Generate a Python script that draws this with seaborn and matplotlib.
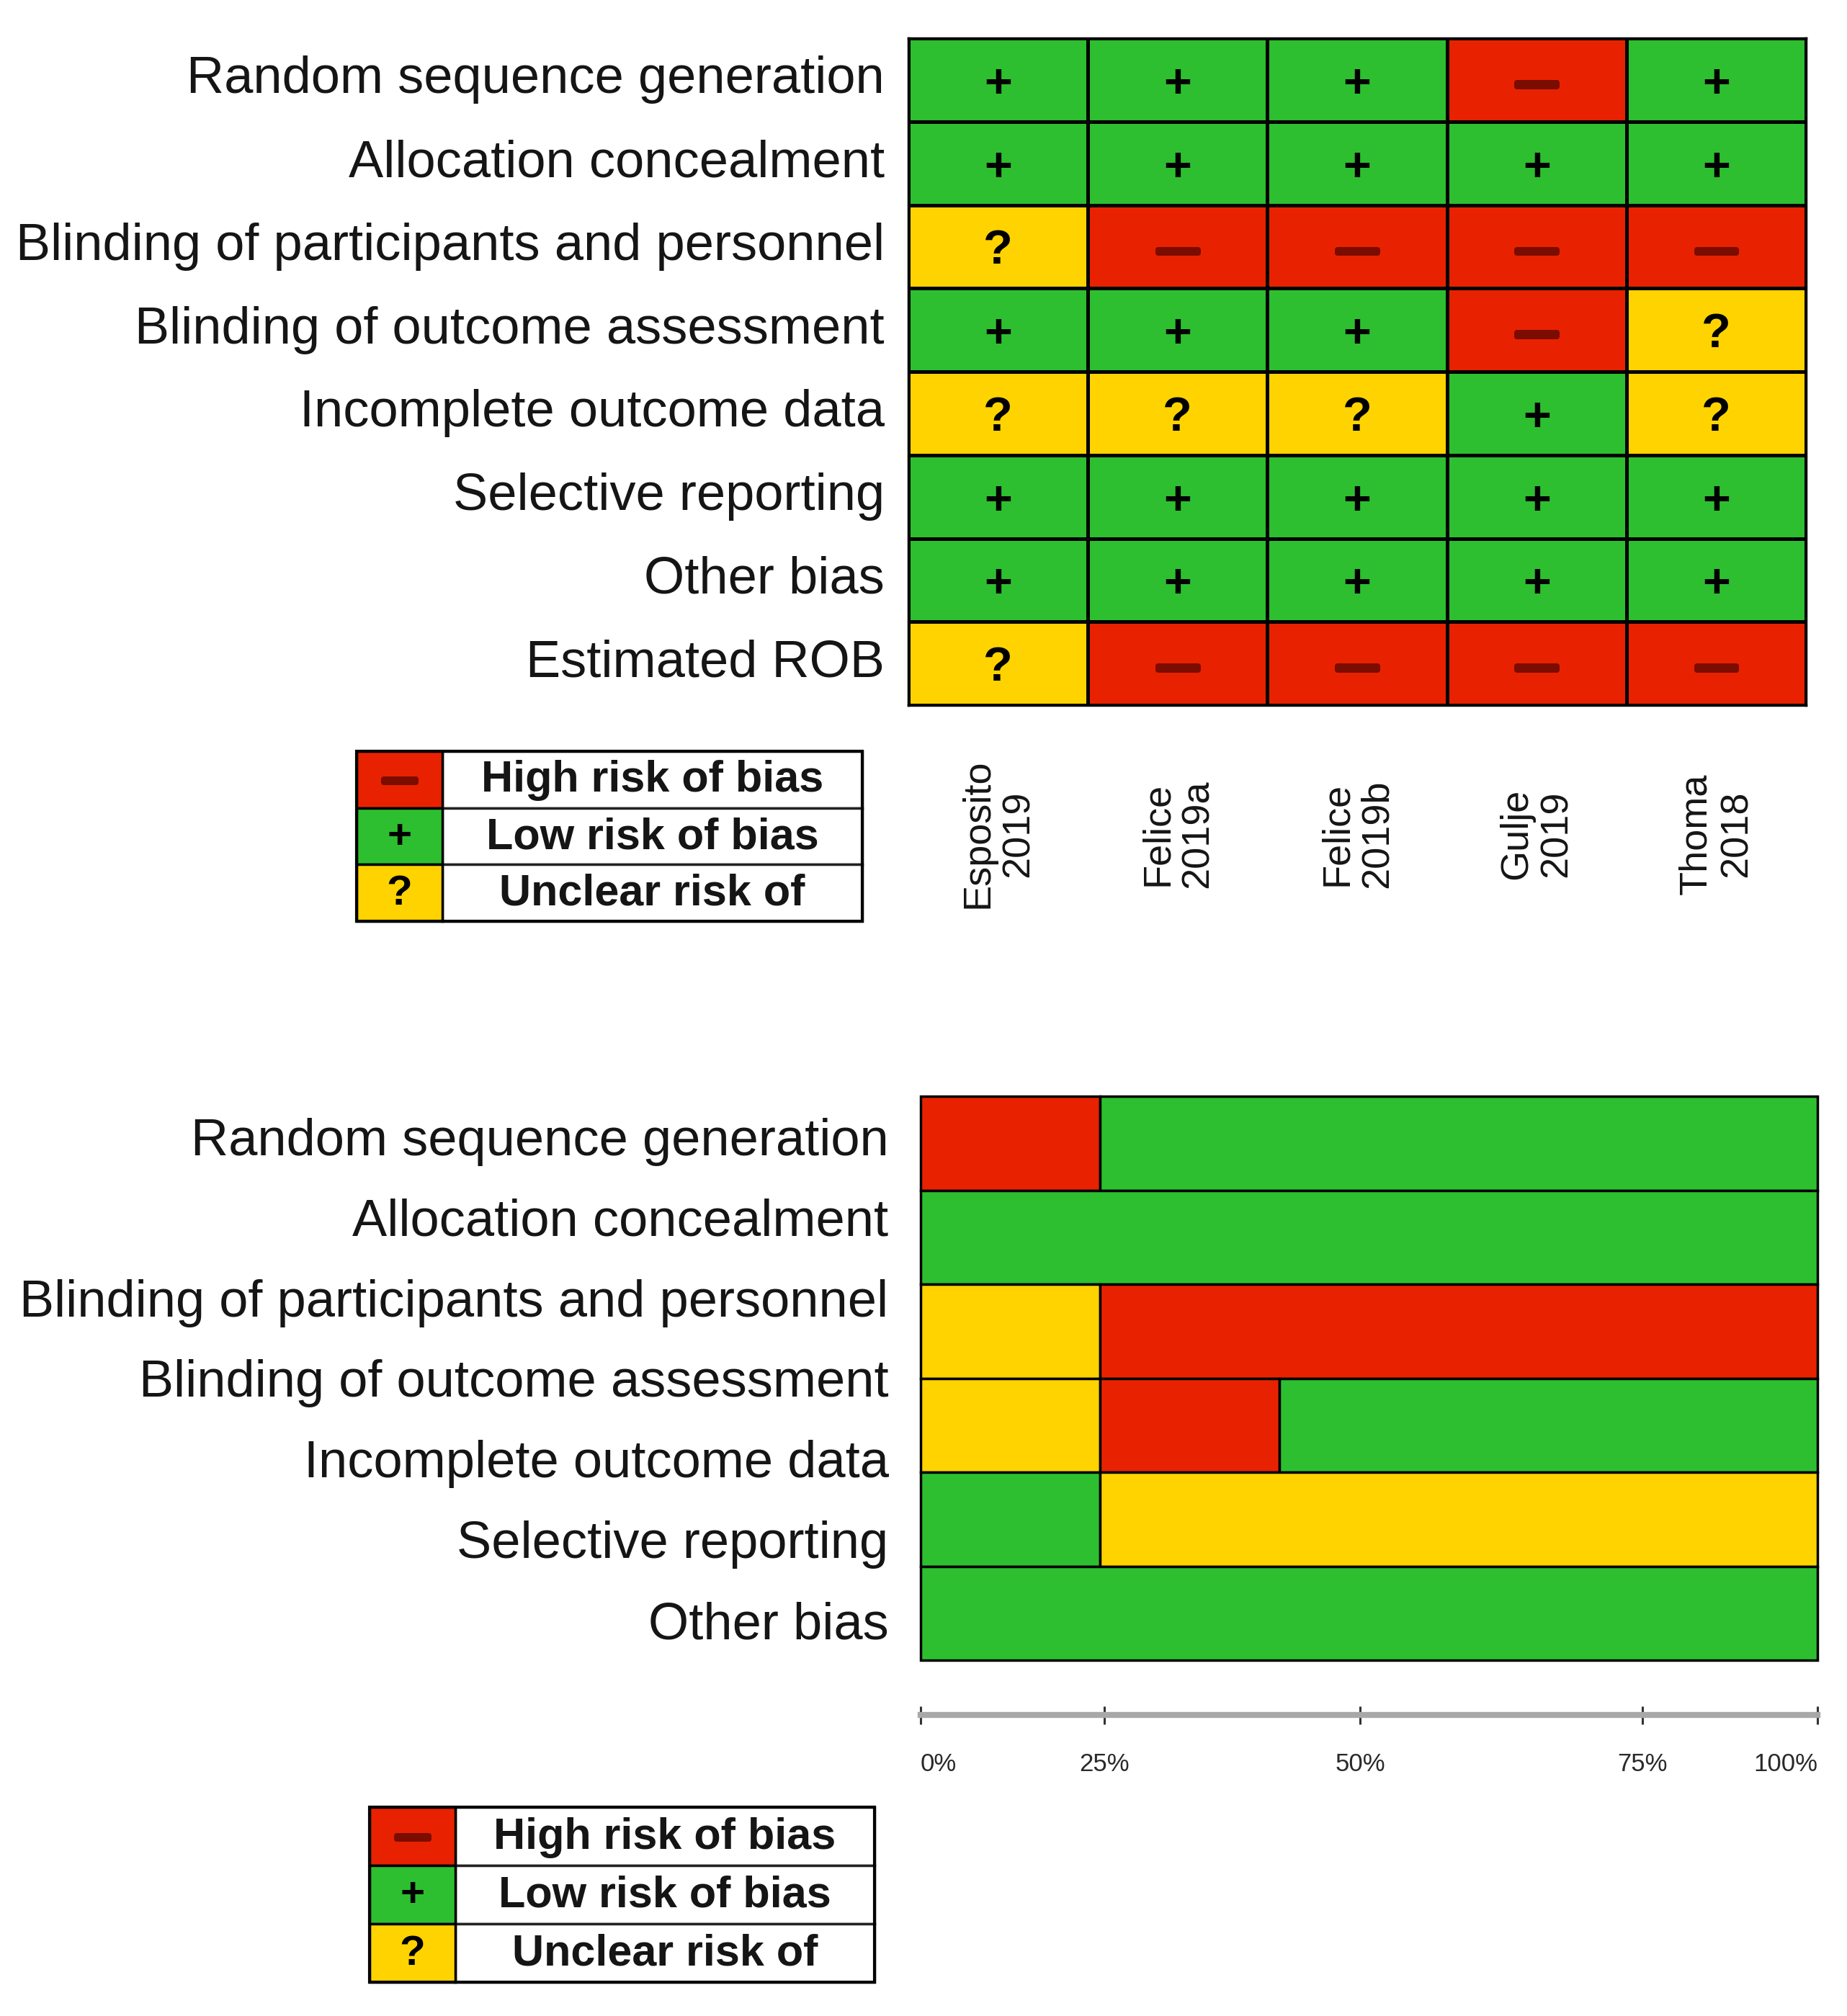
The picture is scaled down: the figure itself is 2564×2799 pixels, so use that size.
import numpy as np
import pandas as pd
import matplotlib
matplotlib.use("Agg")
import matplotlib.pyplot as plt
import matplotlib.patheffects as pe
import seaborn as sns
from matplotlib.colors import ListedColormap
from matplotlib.patches import Rectangle

# ---------------- data ----------------
domains_top = ["Random sequence generation", "Allocation concealment",
               "Blinding of participants and personnel", "Blinding of outcome assessment",
               "Incomplete outcome data", "Selective reporting", "Other bias", "Estimated ROB"]
studies = ["Esposito\n2019", "Felice\n2019a", "Felice\n2019b", "Gulje\n2019", "Thoma\n2018"]
judgements = [
    ["+", "+", "+", "-", "+"],
    ["+", "+", "+", "+", "+"],
    ["?", "-", "-", "-", "-"],
    ["+", "+", "+", "-", "?"],
    ["?", "?", "?", "+", "?"],
    ["+", "+", "+", "+", "+"],
    ["+", "+", "+", "+", "+"],
    ["?", "-", "-", "-", "-"],
]
domains_bottom = ["Random sequence generation", "Allocation concealment",
                  "Blinding of participants and personnel", "Blinding of outcome assessment",
                  "Incomplete outcome data", "Selective reporting", "Other bias"]
seg_judgement = [["-", "+"], ["+"], ["?", "-"], ["?", "-", "+"], ["+", "?"], ["+"]]
seg_percent = [[20, 80], [100], [20, 80], [20, 20, 60], [20, 80], [100]]
axis_tick_pos = [0, 20.5, 49, 80.5, 100]
axis_tick_labels = ["0%", "25%", "50%", "75%", "100%"]
legend_labels = ["High risk of bias", "Low risk of bias", "Unclear risk of"]
legend_symbols = ["-", "+", "?"]

# ---------------- style ----------------
RED = "#E82200"
GREEN = "#2DBF2F"
YELLOW = "#FFD300"
DARKRED = "#7A0C00"
COL = {"-": RED, "+": GREEN, "?": YELLOW}
CODE = {"-": 0, "+": 1, "?": 2}
DISP = {"-": "\u2014", "+": "+", "?": "?"}
TXT = "#151515"
MINUS_FX = [pe.withStroke(linewidth=5, foreground=DARKRED)]

sns.set_style("white")
plt.rcParams["font.family"] = ["Liberation Sans", "DejaVu Sans"]

W, H = 2564, 2799
fig = plt.figure(figsize=(W / 100, H / 100), dpi=100)


def fr(x0, y0, x1, y1):
    return [x0 / W, 1 - y1 / H, (x1 - x0) / W, (y1 - y0) / H]


# ---------------- top: risk of bias summary ----------------
ax1 = fig.add_axes(fr(1261, 53, 2507, 979))
codes = pd.DataFrame([[CODE[j] for j in row] for row in judgements],
                     index=domains_top, columns=studies)
annot = np.array([[DISP[j] for j in row] for row in judgements])
sns.heatmap(codes, ax=ax1, cmap=ListedColormap([RED, GREEN, YELLOW]), vmin=-0.5, vmax=2.5,
            cbar=False, linewidths=2.5, linecolor="black", annot=annot, fmt="",
            annot_kws=dict(fontsize=48, fontweight="bold", color="black"))
for t in ax1.texts:
    t.set_y(t.get_position()[1] + 0.06)
    if t.get_text() == DISP["-"]:
        t.set_color(DARKRED)
        t.set_fontsize(40)
        t.set_path_effects(MINUS_FX)
for s in ax1.spines.values():
    s.set_visible(True)
    s.set_linewidth(2.5)
    s.set_color("black")
ax1.set_yticks(np.arange(len(domains_top)) + 0.5)
ax1.set_yticklabels(domains_top, rotation=0, fontsize=52, color=TXT)
ax1.tick_params(axis="y", length=0, pad=24)
ax1.set_xticks([])
ax1.set_xlabel("")
ax1.set_ylabel("")
for i, st in enumerate(studies):
    ax1.text(i + 0.5, -0.193, st, transform=ax1.get_xaxis_transform(), rotation=90,
             ha="center", va="center", multialignment="center", fontsize=39,
             color=TXT, linespacing=1.15)


def draw_legend(ax):
    ax.set_xlim(0, 1)
    ax.set_ylim(len(legend_labels), 0)
    ax.axis("off")
    sw = 0.17
    for k, (lab, sym) in enumerate(zip(legend_labels, legend_symbols)):
        ax.add_patch(Rectangle((sw, k), 1 - sw, 1, facecolor="white", edgecolor="#222222",
                               lw=2.5, clip_on=False))
        ax.add_patch(Rectangle((0, k), sw, 1, facecolor=COL[sym], edgecolor="black",
                               lw=2.5, clip_on=False))
        t = ax.text(sw / 2, k + 0.52, DISP[sym], ha="center", va="center", fontweight="bold",
                    fontsize=42 if sym != "-" else 32,
                    color=DARKRED if sym == "-" else "black")
        if sym == "-":
            t.set_path_effects(MINUS_FX)
        ax.text(sw + (1 - sw) / 2, k + 0.52, lab, ha="center", va="center",
                fontweight="bold", fontsize=44, color=TXT)
    ax.add_patch(Rectangle((0, 0), 1, len(legend_labels), fill=False, edgecolor="black",
                           lw=3, clip_on=False))


leg1 = fig.add_axes(fr(495, 1043, 1197, 1279))
draw_legend(leg1)

# ---------------- bottom: risk of bias graph ----------------
ax2 = fig.add_axes(fr(1278, 1522, 2523, 2305))
for i, (js, ps) in enumerate(zip(seg_judgement, seg_percent)):
    left = 0
    for j, p in zip(js, ps):
        ax2.barh(i, p, left=left, height=1.0, color=COL[j], edgecolor="black",
                 linewidth=2.5, clip_on=False)
        left += p
ax2.set_xlim(0, 100)
ax2.set_ylim(len(seg_percent) - 0.5, -0.5)
n, m = len(domains_bottom), len(seg_percent)
ypos = -0.5 + (np.arange(n) + 0.5) * m / n
ax2.set_yticks(ypos)
ax2.set_yticklabels(domains_bottom, fontsize=52, color=TXT)
ax2.tick_params(axis="y", length=0, pad=32, left=False)
for side in ["top", "left", "right"]:
    ax2.spines[side].set_visible(False)
ax2.spines["bottom"].set_position(("outward", 55))
ax2.spines["bottom"].set_color("#A8A8A8")
ax2.spines["bottom"].set_linewidth(6)
ax2.set_xticks(axis_tick_pos)
ax2.set_xticklabels(axis_tick_labels, fontsize=25, color="#2a2a2a")
ax2.tick_params(axis="x", bottom=True, direction="inout", length=18, width=2.2,
                color="#333333", pad=28)
xl = ax2.get_xticklabels()
xl[0].set_ha("left")
xl[-1].set_ha("right")

leg2 = fig.add_axes(fr(513, 2509, 1214, 2752))
draw_legend(leg2)

fig.savefig("out.png", dpi=100, facecolor="white")
